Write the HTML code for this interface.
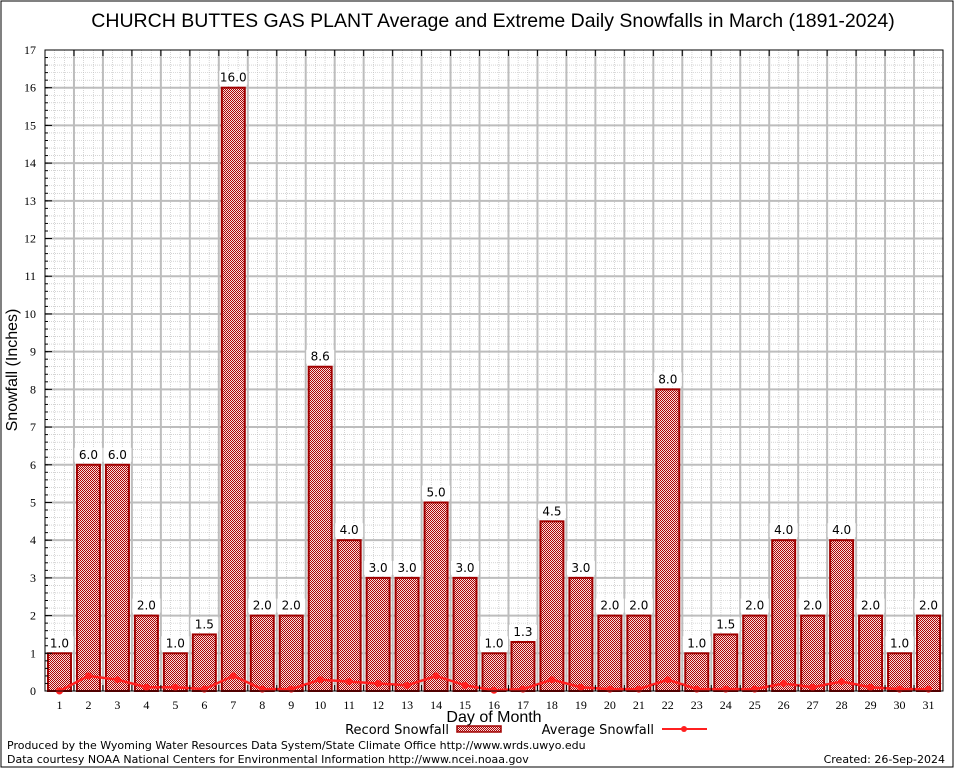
<!DOCTYPE html>
<html><head><meta charset="utf-8"><style>
body{margin:0;background:#fff;}
svg{display:block;font-family:"DejaVu Sans","Liberation Sans",sans-serif;}
</style></head><body>
<svg id="chart" width="954" height="768" viewBox="0 0 954 768" xmlns="http://www.w3.org/2000/svg">
<defs>
<pattern id="hatch" width="2" height="2" patternUnits="userSpaceOnUse">
<rect width="2" height="2" fill="#f4dede"/>
<rect width="1" height="1" fill="#b00000"/>
<rect x="1" y="1" width="1" height="1" fill="#b00000"/>
</pattern>
</defs>
<rect x="1" y="1" width="952" height="766" fill="#fff" stroke="#000" stroke-width="1"/>
<text x="493" y="27" font-size="19.5" font-family="Liberation Sans, sans-serif" text-anchor="middle">CHURCH BUTTES GAS PLANT Average and Extreme Daily Snowfalls in March (1891-2024)</text>
<g id="grid"></g>
<g id="bars"></g>
<g id="line"></g>
<g id="axes"></g>
<text transform="translate(17,370) rotate(-90)" font-size="16" text-anchor="middle" font-family="Liberation Sans, sans-serif">Snowfall (Inches)</text>
<text x="494" y="722" font-size="16" text-anchor="middle" font-family="Liberation Sans, sans-serif">Day of Month</text>
<g>
<text x="449" y="734" font-size="13" text-anchor="end">Record Snowfall</text>
<rect x="457" y="726" width="44" height="6" fill="url(#hatch)" stroke="#a00000" stroke-width="1.5"/>
<text x="654" y="734" font-size="13" text-anchor="end">Average Snowfall</text>
<line x1="662" y1="729" x2="707" y2="729" stroke="#ff2020" stroke-width="2"/>
<circle cx="684" cy="729" r="3" fill="#ff2020"/>
</g>
<text x="7" y="749" font-size="11">Produced by the Wyoming Water Resources Data System/State Climate Office http://www.wrds.uwyo.edu</text>
<text x="7" y="763" font-size="11">Data courtesy NOAA National Centers for Environmental Information http://www.ncei.noaa.gov</text>
<text x="945" y="763" font-size="11" text-anchor="end">Created: 26-Sep-2024</text>
</svg>
<script>
const days=[1,2,3,4,5,6,7,8,9,10,11,12,13,14,15,16,17,18,19,20,21,22,23,24,25,26,27,28,29,30,31];
const recordSnow=[1.0,6.0,6.0,2.0,1.0,1.5,16.0,2.0,2.0,8.6,4.0,3.0,3.0,5.0,3.0,1.0,1.3,4.5,3.0,2.0,2.0,8.0,1.0,1.5,2.0,4.0,2.0,4.0,2.0,1.0,2.0];
const avgSnow=[0.0,0.4,0.3,0.1,0.1,0.05,0.4,0.05,0.05,0.3,0.25,0.2,0.15,0.4,0.15,0.02,0.05,0.3,0.1,0.05,0.05,0.3,0.05,0.05,0.05,0.2,0.1,0.25,0.1,0.05,0.05];
const yTicks=[0,1,2,3,4,5,6,7,8,9,10,11,12,13,14,15,16,17];
const L=45,R=943,T=50,B=691,YMAX=17;
const n=days.length, dw=(R-L)/n;
const xc=d=>L+dw*(d-0.5);
const y=v=>B-(B-T)*v/YMAX;
const NS="http://www.w3.org/2000/svg";
function mk(tag,attrs,parent,txt){const e=document.createElementNS(NS,tag);for(const k in attrs)e.setAttribute(k,attrs[k]);if(txt!==undefined)e.textContent=txt;parent.appendChild(e);return e;}
const grid=document.getElementById('grid'),bars=document.getElementById('bars'),line=document.getElementById('line'),axes=document.getElementById('axes');
for(let v=0.2;v<YMAX;v+=0.2){if(Math.abs(v-Math.round(v))<0.01)continue;mk('line',{x1:L,x2:R,y1:y(v),y2:y(v),stroke:'#bbb','stroke-width':0.6,'stroke-dasharray':'1,1'},grid);}
for(let i=0;i<n;i++){for(let j=1;j<3;j++){const x=L+dw*i+dw*j/3;mk('line',{x1:x,x2:x,y1:T,y2:B,stroke:'#bbb','stroke-width':0.6,'stroke-dasharray':'1,1'},grid);}}
yTicks.forEach(v=>{if(v>0&&v<YMAX)mk('line',{x1:L,x2:R,y1:y(v),y2:y(v),stroke:'#bdbdbd','stroke-width':2},grid);});
for(let i=1;i<n;i++){const x=L+dw*i;mk('line',{x1:x,x2:x,y1:T,y2:B,stroke:'#bdbdbd','stroke-width':2},grid);}
days.forEach((d,i)=>{
 const v=recordSnow[i];const bw=23;
 const r=mk('rect',{x:xc(d)-bw/2,y:y(v),width:bw,height:B-y(v),fill:'url(#hatch)',stroke:'#a00000','stroke-width':2},bars);
 
 
 mk('rect',{x:xc(d)-14,y:y(v)-17,width:28,height:14,fill:'#fff'},bars);
 const t=mk('text',{x:xc(d),y:y(v)-6,'font-size':12,'text-anchor':'middle'},bars,v.toFixed(1));
 
 
});
const pts=days.map((d,i)=>xc(d)+','+y(avgSnow[i])).join(' ');
const pl=mk('polyline',{points:pts,fill:'none',stroke:'#ff2020','stroke-width':2.5},line);


days.forEach((d,i)=>{const c=mk('circle',{cx:xc(d),cy:y(avgSnow[i]),r:3.5,fill:'#ff2020'},line);
 
 });
mk('rect',{x:L,y:T,width:R-L,height:B-T,fill:'none',stroke:'#000','stroke-width':1},axes);
yTicks.forEach(v=>{
 mk('line',{x1:L,x2:L+7,y1:y(v),y2:y(v),stroke:'#000'},axes);
 const t=mk('text',{x:L-9,y:y(v)+4,'font-size':12,'text-anchor':'end','font-family':'Liberation Serif, serif'},axes,String(v));
 
 
});
for(let v=0.2;v<YMAX;v+=0.2){mk('line',{x1:L,x2:L+3,y1:y(v),y2:y(v),stroke:'#000'},axes);}
for(let i=1;i<n;i++){const x=L+dw*i;mk('line',{x1:x,x2:x,y1:T,y2:T+6,stroke:'#000'},axes);mk('line',{x1:x,x2:x,y1:B,y2:B-6,stroke:'#000'},axes);}
days.forEach(d=>{const t=mk('text',{x:xc(d),y:B+18,'font-size':12,'text-anchor':'middle','font-family':'Liberation Serif, serif'},axes,String(d));
 
 });
</script>
</body></html>
